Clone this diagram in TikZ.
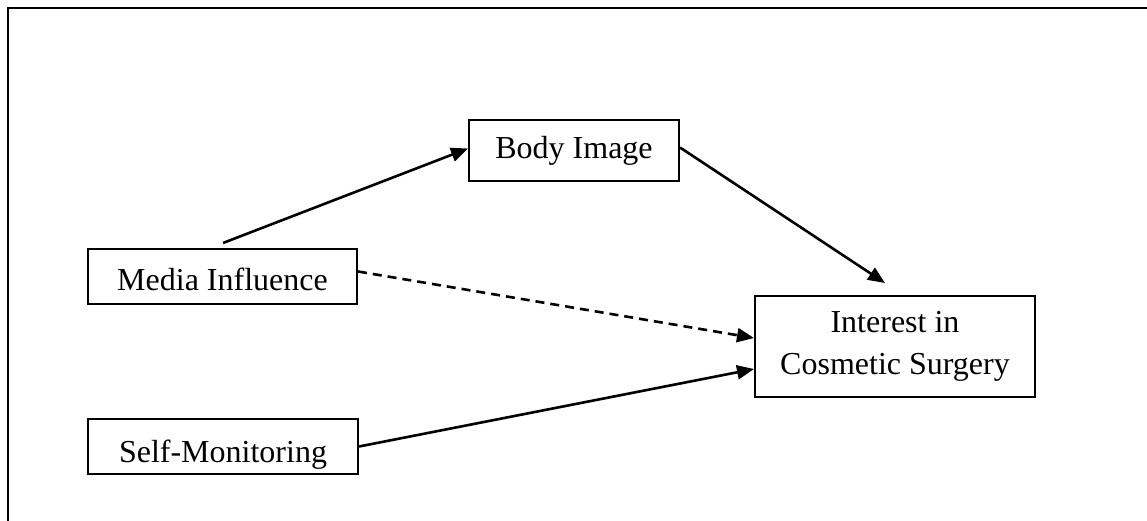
\documentclass[tikz,border=0pt]{standalone}
\usepackage{fontspec}
\setmainfont{Liberation Serif}
\usetikzlibrary{arrows.meta,calc}
\begin{document}
\begin{tikzpicture}[x=1pt,y=-1pt,
  box/.style={draw,line width=2pt,inner sep=0pt,align=center,
    font=\fontsize{32}{42}\selectfont},
  conn/.style={line width=2.6pt,-{Triangle[length=17pt,width=14pt]}},
  dashconn/.style={conn,dash pattern=on 9pt off 6pt}]
\useasboundingbox (0,0) rectangle (1147,521);
\draw[line width=2.6pt] (8,521) -- (8,8) -- (1147,8);
\node[box,minimum width=210pt,minimum height=61pt,text height=22pt,text depth=5pt] (body) at (574,150.5) {Body Image};
\node[box,minimum width=269pt,minimum height=55pt,text height=27pt,text depth=0pt] (media) at (222.5,276.5) {Media Influence};
\node[box,minimum width=270pt,minimum height=55pt,text height=31pt,text depth=0pt] (self) at (223,446.5) {Self-Monitoring};
\node[box,minimum width=280pt,minimum height=101pt] (ics) at (895,346.5) {Interest in\\Cosmetic Surgery};
\coordinate (mtop) at (223,243);
\coordinate (itop) at (885,283);
\draw[conn] (mtop) -- ([yshift=2pt]body.west);
\draw[conn] ([yshift=3pt]body.east) -- (itop);
\draw[dashconn] ([yshift=5pt]media.east) -- ([yshift=8.5pt]ics.west);
\draw[conn] (self.east) -- ([yshift=-22.5pt]ics.west);
\end{tikzpicture}
\end{document}
